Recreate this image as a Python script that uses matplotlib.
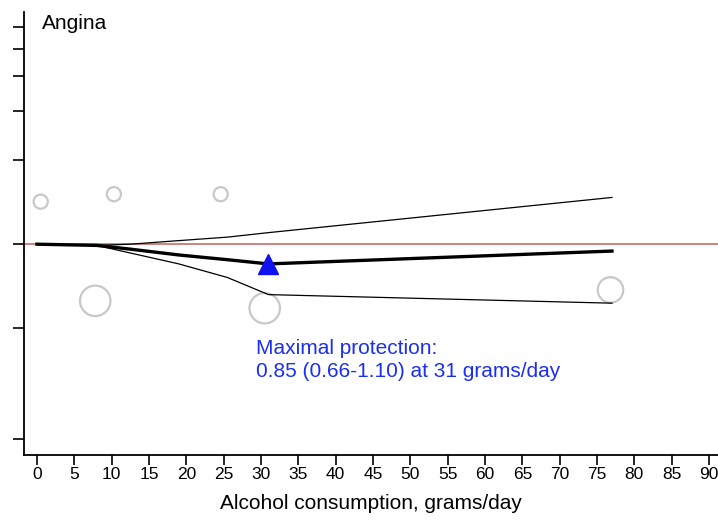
import numpy as np
import matplotlib
matplotlib.use('Agg')
import matplotlib.pyplot as plt

plt.rcParams['font.family'] = ['Liberation Sans', 'DejaVu Sans']

# pooled dose-response curve (relative risk) with 95% CI
dose = [0, 8, 12.5, 19, 25.5, 31, 77]
rr_mid = [1.0, 0.99, 0.96, 0.915, 0.88, 0.85, 0.945]
rr_low = [1.0, 0.99, 0.93, 0.85, 0.76, 0.66, 0.615]
rr_high = [1.0, 0.99, 1.0, 1.03, 1.06, 1.10, 1.47]

# individual study estimates, circle size ~ study weight
study_dose = [0.5, 7.8, 10.3, 24.6, 30.5, 76.8]
study_rr = [1.42, 0.627, 1.51, 1.51, 0.59, 0.686]
study_w = [1.0, 2.15, 1.0, 1.0, 2.15, 1.8]

best_dose = 31
best_rr = 0.85

xticks = list(range(0, 95, 5))
yticks = [0.2, 0.5, 1, 2, 3, 4, 5, 6]

fig = plt.figure(figsize=(7.18, 5.21), dpi=100)
ax = fig.add_axes([0.0334, 0.1267, 0.9666, 0.85])
ax.set_yscale('log')

ax.axhline(1, color='#c87878', lw=1.3, zorder=1)
ax.scatter(study_dose, study_rr, s=[(10.2 * w) ** 2 for w in study_w],
           facecolors='none', edgecolors='#c8c8c8', linewidths=1.6, zorder=2)
ax.plot(dose, rr_high, color='black', lw=0.9, zorder=3)
ax.plot(dose, rr_low, color='black', lw=0.9, zorder=3)
ax.plot(dose, rr_mid, color='black', lw=2.4, zorder=3)
ax.plot([best_dose], [best_rr], marker='^', color='#1010f0', ms=14,
        ls='none', zorder=4)

ax.text(29.3, 0.385, 'Maximal protection:\n%.2f (%.2f-%.2f) at %d grams/day'
        % (best_rr, rr_low[5], rr_high[5], best_dose),
        color='#1a2ff0', fontsize=15, va='center', ha='left',
        linespacing=1.25)
ax.text(0.026, 0.995, 'Angina', transform=ax.transAxes, fontsize=15,
        va='top', ha='left')

ax.set_xlim(-1.74, 91.2)
ax.set_ylim(0.176, 6.77)
ax.set_xticks(xticks)
ax.set_xticklabels([str(t) for t in xticks], fontsize=12.5)
ax.set_yticks(yticks)
ax.set_yticklabels([])
ax.yaxis.set_minor_locator(matplotlib.ticker.NullLocator())
ax.tick_params(axis='both', direction='out', length=8, width=1.2)
ax.tick_params(axis='x', length=7, pad=2)
ax.set_xlabel('Alcohol consumption, grams/day', fontsize=15, labelpad=8)

for side in ['top', 'right']:
    ax.spines[side].set_visible(False)
for side in ['left', 'bottom']:
    ax.spines[side].set_linewidth(1.3)

fig.savefig('out.png', dpi=100)
